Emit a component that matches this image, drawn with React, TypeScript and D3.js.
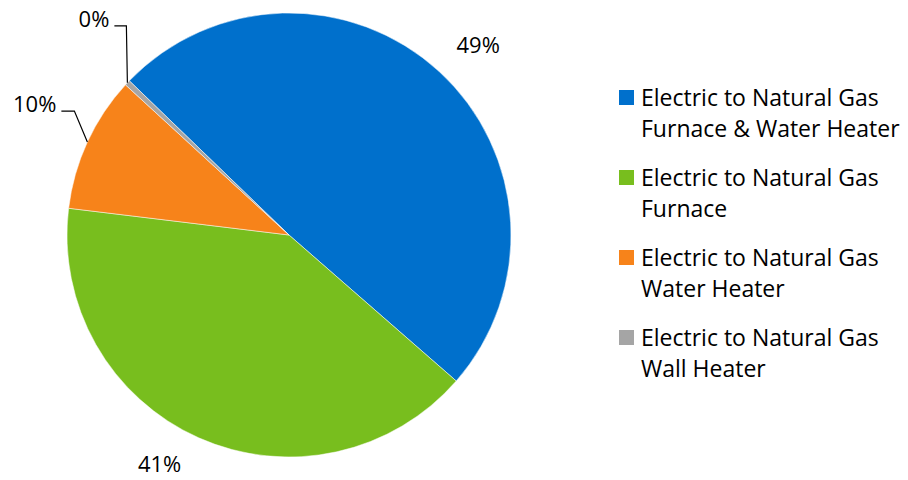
import React from "react";
import * as d3 from "d3";

const categories = [
  "Electric to Natural Gas Furnace & Water Heater",
  "Electric to Natural Gas Furnace",
  "Electric to Natural Gas Water Heater",
  "Electric to Natural Gas Wall Heater",
];
const legendLines = [
  ["Electric to Natural Gas", "Furnace & Water Heater"],
  ["Electric to Natural Gas", "Furnace"],
  ["Electric to Natural Gas", "Water Heater"],
  ["Electric to Natural Gas", "Wall Heater"],
];
const values = [0.492, 0.405, 0.099, 0.004];
const colors = ["#0070CC", "#78BE1E", "#F7831A", "#A5A5A5"];

const W = 908, H = 480;
const cx = 289, cy = 235, R = 222;
const start = (-46 * Math.PI) / 180;

export default function App() {
  const pie = d3.pie<number>().sort(null).startAngle(start).endAngle(start + 2 * Math.PI);
  const arcs = pie(values);
  const arcGen = d3.arc<d3.PieArcDatum<number>>().innerRadius(0).outerRadius(R);
  const fmt = d3.format(".0%");
  const font = "'Open Sans', sans-serif";
  const lf = 22;

  const ptAt = (a: d3.PieArcDatum<number>, r: number) => {
    const mid = (a.startAngle + a.endAngle) / 2;
    return [cx + r * Math.sin(mid), cy - r * Math.cos(mid)];
  };

  return (
    <div style={{ margin: -8 }}>
      <svg width={W} height={H} style={{ display: "block", fontFamily: font }}>
        <rect width={W} height={H} fill="#fff" />
        <g transform={`translate(${cx},${cy})`}>
          {arcs.map((a, i) => (
            <path key={i} d={arcGen(a) || ""} fill={colors[i]} stroke="#fff" strokeWidth={0.5} />
          ))}
        </g>
        {arcs.map((a, i) => {
          const [x0, y0] = ptAt(a, R);
          if (i === 0) {
            return (
              <text key={i} x={x0 + 39} y={y0 - 18} fontSize={lf} textAnchor="middle" fill="#000">
                {fmt(values[i])}
              </text>
            );
          }
          if (i === 1) {
            return (
              <text key={i} x={x0 - 39} y={y0 + 34} fontSize={lf} textAnchor="middle" fill="#000">
                {fmt(values[i])}
              </text>
            );
          }
          if (i === 2) {
            return (
              <g key={i}>
                <polyline points={`${x0},${y0} ${x0 - 13},${y0 - 31} ${x0 - 26},${y0 - 31}`} fill="none" stroke="#000" strokeWidth={1.2} />
                <text x={x0 - 31} y={y0 - 30} fontSize={lf} textAnchor="end" fill="#000">{fmt(values[i])}</text>
              </g>
            );
          }
          return (
            <g key={i}>
              <polyline points={`${x0},${y0} ${x0 - 1},${y0 - 57} ${x0 - 13},${y0 - 57}`} fill="none" stroke="#000" strokeWidth={1.2} />
              <text x={x0 - 18} y={y0 - 56} fontSize={lf} textAnchor="end" fill="#000">{fmt(values[i])}</text>
            </g>
          );
        })}
        {legendLines.map((lines, i) => {
          const y0 = 90 + i * 80;
          return (
            <g key={i}>
              <rect x={619} y={y0} width={15} height={15} fill={colors[i]} />
              {lines.map((l, j) => (
                <text key={j} x={641} y={y0 + 16 + j * 31} fontSize={23} fill="#000">{l}</text>
              ))}
            </g>
          );
        })}
      </svg>
    </div>
  );
}
